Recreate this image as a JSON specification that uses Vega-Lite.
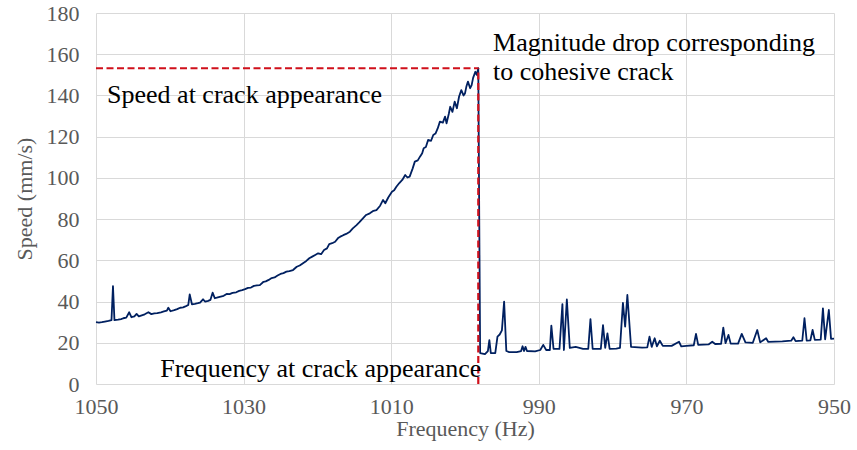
{
  "$schema": "https://vega.github.io/schema/vega-lite/v6.json",
  "width": 738,
  "height": 371,
  "autosize": "none",
  "padding": {"left": 96, "top": 13, "right": 23, "bottom": 66},
  "background": "white",
  "config": {"view": {"stroke": null}, "font": "Liberation Serif, Times New Roman, serif"},
  "datasets": {
    "speed": [
      {"f":1050.0,"s":30.0},{"f":1049.6,"s":29.8},{"f":1049.2,"s":30.0},{"f":1048.8,"s":30.3},{"f":1048.3,"s":30.6},{"f":1047.9,"s":31.0},{"f":1047.7,"s":47.5},{"f":1047.5,"s":31.0},{"f":1047.0,"s":31.2},{"f":1046.6,"s":31.5},{"f":1046.3,"s":31.9},{"f":1045.9,"s":32.2},{"f":1045.5,"s":34.8},{"f":1045.2,"s":32.4},{"f":1044.8,"s":32.8},{"f":1044.5,"s":34.0},{"f":1044.2,"s":32.8},{"f":1043.8,"s":33.3},{"f":1043.4,"s":33.8},{"f":1042.9,"s":34.8},{"f":1042.5,"s":33.9},{"f":1042.1,"s":34.3},{"f":1041.7,"s":34.4},{"f":1041.2,"s":34.8},{"f":1040.8,"s":35.2},{"f":1040.4,"s":35.6},{"f":1040.2,"s":37.0},{"f":1039.9,"s":35.3},{"f":1039.4,"s":35.8},{"f":1039.0,"s":36.3},{"f":1038.6,"s":37.0},{"f":1038.2,"s":37.2},{"f":1037.8,"s":37.8},{"f":1037.5,"s":38.3},{"f":1037.3,"s":43.5},{"f":1037.0,"s":38.7},{"f":1036.6,"s":38.9},{"f":1036.2,"s":39.2},{"f":1035.9,"s":39.5},{"f":1035.5,"s":41.1},{"f":1035.2,"s":40.0},{"f":1034.8,"s":40.3},{"f":1034.5,"s":40.8},{"f":1034.2,"s":44.3},{"f":1033.9,"s":41.6},{"f":1033.5,"s":42.0},{"f":1033.1,"s":42.4},{"f":1032.7,"s":42.8},{"f":1032.3,"s":43.7},{"f":1031.9,"s":43.6},{"f":1031.5,"s":44.2},{"f":1031.0,"s":44.5},{"f":1030.6,"s":45.2},{"f":1030.2,"s":45.5},{"f":1029.8,"s":46.0},{"f":1029.4,"s":46.6},{"f":1029.0,"s":46.8},{"f":1028.6,"s":47.6},{"f":1028.2,"s":47.8},{"f":1027.8,"s":48.0},{"f":1027.3,"s":49.6},{"f":1027.0,"s":49.8},{"f":1026.6,"s":50.5},{"f":1026.2,"s":51.4},{"f":1025.8,"s":51.7},{"f":1025.4,"s":52.6},{"f":1025.0,"s":53.4},{"f":1024.6,"s":53.8},{"f":1024.2,"s":54.5},{"f":1023.8,"s":54.8},{"f":1023.3,"s":55.3},{"f":1022.8,"s":56.9},{"f":1022.4,"s":57.5},{"f":1022.0,"s":58.5},{"f":1021.5,"s":59.7},{"f":1021.1,"s":61.0},{"f":1020.7,"s":61.8},{"f":1020.3,"s":62.6},{"f":1019.9,"s":63.4},{"f":1019.5,"s":63.0},{"f":1019.1,"s":65.0},{"f":1018.7,"s":65.8},{"f":1018.4,"s":67.9},{"f":1018.0,"s":68.3},{"f":1017.6,"s":69.0},{"f":1017.2,"s":70.8},{"f":1016.9,"s":71.5},{"f":1016.5,"s":72.2},{"f":1016.1,"s":72.8},{"f":1015.6,"s":73.9},{"f":1015.2,"s":75.5},{"f":1014.7,"s":77.1},{"f":1014.3,"s":78.5},{"f":1013.8,"s":80.5},{"f":1013.4,"s":82.0},{"f":1012.9,"s":82.8},{"f":1012.4,"s":84.0},{"f":1012.0,"s":84.4},{"f":1011.5,"s":86.5},{"f":1011.1,"s":89.3},{"f":1010.8,"s":87.7},{"f":1010.4,"s":90.5},{"f":1009.9,"s":93.3},{"f":1009.6,"s":94.0},{"f":1009.3,"s":95.7},{"f":1008.9,"s":97.5},{"f":1008.5,"s":99.0},{"f":1008.1,"s":101.4},{"f":1007.8,"s":100.2},{"f":1007.5,"s":100.6},{"f":1007.1,"s":104.5},{"f":1006.8,"s":107.9},{"f":1006.4,"s":108.5},{"f":1006.1,"s":110.3},{"f":1005.8,"s":112.0},{"f":1005.6,"s":114.4},{"f":1005.3,"s":115.0},{"f":1005.0,"s":118.4},{"f":1004.6,"s":118.0},{"f":1004.3,"s":120.8},{"f":1004.0,"s":121.5},{"f":1003.7,"s":124.0},{"f":1003.4,"s":127.3},{"f":1003.0,"s":126.8},{"f":1002.7,"s":129.7},{"f":1002.5,"s":126.5},{"f":1002.2,"s":131.0},{"f":1002.0,"s":134.5},{"f":1001.7,"s":132.0},{"f":1001.4,"s":137.0},{"f":1001.1,"s":133.8},{"f":1000.8,"s":139.5},{"f":1000.5,"s":142.6},{"f":1000.2,"s":140.0},{"f":1000.0,"s":141.0},{"f":999.8,"s":144.5},{"f":999.6,"s":146.7},{"f":999.3,"s":143.5},{"f":999.1,"s":145.0},{"f":998.9,"s":148.5},{"f":998.6,"s":151.5},{"f":998.4,"s":150.0},{"f":998.2,"s":153.2},
      {"f":997.95,"s":15.0},{"f":997.3,"s":14.5},{"f":996.9,"s":16.0},{"f":996.7,"s":21.3},{"f":996.5,"s":15.0},{"f":995.9,"s":15.0},{"f":995.6,"s":23.0},{"f":995.3,"s":24.0},{"f":995.0,"s":26.0},{"f":994.7,"s":40.0},{"f":994.4,"s":16.0},{"f":994.0,"s":15.5},{"f":993.0,"s":15.5},{"f":992.4,"s":16.0},{"f":992.2,"s":18.3},{"f":992.0,"s":16.0},{"f":991.8,"s":18.0},{"f":991.6,"s":16.0},{"f":990.5,"s":15.8},{"f":989.8,"s":16.5},{"f":989.4,"s":19.0},{"f":989.0,"s":16.5},{"f":988.5,"s":16.5},{"f":988.3,"s":28.3},{"f":988.0,"s":17.0},{"f":987.2,"s":17.0},{"f":986.8,"s":38.8},{"f":986.6,"s":16.5},{"f":986.2,"s":41.0},{"f":985.8,"s":17.5},{"f":985.0,"s":18.0},{"f":984.0,"s":17.0},{"f":983.3,"s":17.0},{"f":983.0,"s":31.5},{"f":982.7,"s":17.0},{"f":981.6,"s":17.0},{"f":981.3,"s":28.6},{"f":981.0,"s":17.5},{"f":980.7,"s":24.6},{"f":980.4,"s":17.0},{"f":979.5,"s":17.2},{"f":979.0,"s":17.5},{"f":978.6,"s":39.4},{"f":978.3,"s":27.8},{"f":978.0,"s":43.2},{"f":977.5,"s":18.0},{"f":976.0,"s":17.6},{"f":975.3,"s":17.8},{"f":975.0,"s":23.0},{"f":974.7,"s":18.0},{"f":974.3,"s":22.2},{"f":974.0,"s":18.3},{"f":973.6,"s":21.0},{"f":973.2,"s":18.5},{"f":972.0,"s":18.5},{"f":971.0,"s":20.5},{"f":970.7,"s":18.3},{"f":970.0,"s":18.5},{"f":969.0,"s":18.8},{"f":968.7,"s":24.3},{"f":968.4,"s":19.0},{"f":967.0,"s":19.2},{"f":966.5,"s":20.5},{"f":966.1,"s":19.4},{"f":965.3,"s":19.5},{"f":965.0,"s":27.3},{"f":964.7,"s":19.8},{"f":964.3,"s":23.8},{"f":964.0,"s":19.6},{"f":963.0,"s":19.6},{"f":962.5,"s":24.3},{"f":962.0,"s":20.2},{"f":961.0,"s":20.0},{"f":960.4,"s":26.2},{"f":960.0,"s":20.2},{"f":959.2,"s":22.2},{"f":958.9,"s":20.4},{"f":957.0,"s":20.7},{"f":955.8,"s":21.0},{"f":955.5,"s":22.7},{"f":955.2,"s":20.8},{"f":954.3,"s":21.0},{"f":954.0,"s":31.9},{"f":953.7,"s":21.0},{"f":953.2,"s":21.2},{"f":952.9,"s":26.2},{"f":952.6,"s":21.4},{"f":951.8,"s":21.5},{"f":951.5,"s":36.7},{"f":951.2,"s":21.7},{"f":950.7,"s":35.9},{"f":950.4,"s":21.9},{"f":950.0,"s":22.0}
    ],
    "guides": [
      {"f1":1050,"f2":998.2,"s1":153.2,"s2":153.2},
      {"f1":998.2,"f2":998.2,"s1":0,"s2":153.2}
    ],
    "notes": [
      {"label":"Speed at crack appearance","f":1048.5,"s":140.2},
      {"label":"Magnitude drop corresponding","f":996.2,"s":165.3},
      {"label":"to cohesive crack","f":996.2,"s":151.3},
      {"label":"Frequency at crack appearance","f":1041.3,"s":7.3}
    ]
  },
  "layer": [
    {
      "data": {"name": "speed"},
      "mark": {"type": "line", "color": "#002060", "strokeWidth": 1.8, "interpolate": "linear", "strokeJoin": "round"},
      "encoding": {
        "x": {
          "field": "f", "type": "quantitative",
          "scale": {"domain": [950, 1050], "reverse": true, "nice": false, "zero": false},
          "axis": {
            "title": "Frequency (Hz)", "values": [1050, 1030, 1010, 990, 970, 950], "format": "d",
            "domain": false, "ticks": false, "grid": true, "gridColor": "#D9D9D9", "gridWidth": 1,
            "labelFont": "Liberation Serif, Times New Roman, serif", "labelFontSize": 22, "labelColor": "#595959", "labelPadding": 12,
            "labelFlush": false,
            "titleFont": "Liberation Serif, Times New Roman, serif", "titleFontSize": 22, "titleFontWeight": "normal", "titleColor": "#595959", "titlePadding": 1
          }
        },
        "y": {
          "field": "s", "type": "quantitative",
          "scale": {"domain": [0, 180], "nice": false},
          "axis": {
            "title": "Speed (mm/s)", "values": [0, 20, 40, 60, 80, 100, 120, 140, 160, 180],
            "domain": false, "ticks": false, "grid": true, "gridColor": "#D9D9D9", "gridWidth": 1,
            "labelFont": "Liberation Serif, Times New Roman, serif", "labelFontSize": 22, "labelColor": "#595959", "labelPadding": 17,
            "titleFont": "Liberation Serif, Times New Roman, serif", "titleFontSize": 22, "titleFontWeight": "normal", "titleColor": "#595959", "titlePadding": 10
          }
        }
      }
    },
    {
      "data": {"name": "guides"},
      "mark": {"type": "rule", "color": "#D0101B", "strokeWidth": 2.2, "strokeDash": [7, 3.5]},
      "encoding": {
        "x": {"field": "f1", "type": "quantitative"},
        "x2": {"field": "f2"},
        "y": {"field": "s1", "type": "quantitative"},
        "y2": {"field": "s2"}
      }
    },
    {
      "data": {"name": "notes"},
      "mark": {"type": "text", "align": "left", "baseline": "middle", "font": "Liberation Serif, Times New Roman, serif", "fontSize": 26, "color": "black"},
      "encoding": {
        "x": {"field": "f", "type": "quantitative"},
        "y": {"field": "s", "type": "quantitative"},
        "text": {"field": "label"}
      }
    }
  ]
}
